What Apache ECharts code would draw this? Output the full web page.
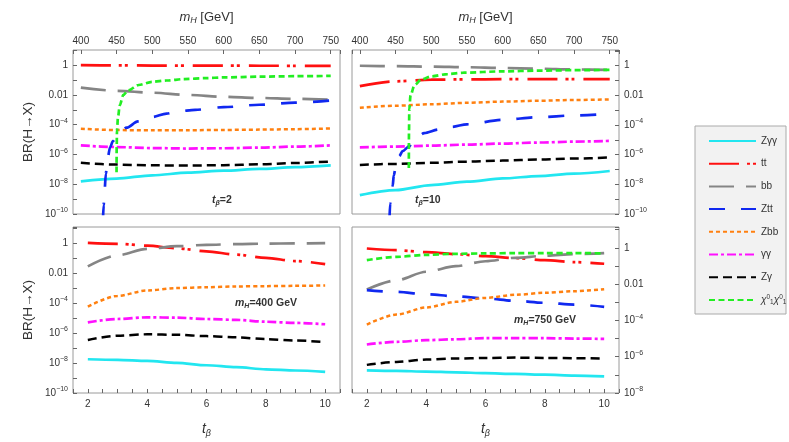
<!DOCTYPE html>
<html>
<head>
<meta charset="utf-8">
<script src="https://cdn.jsdelivr.net/npm/echarts@6/dist/echarts.min.js"></script>
<style>
html, body { margin: 0; padding: 0; background: #fff; }
#main { width: 789px; height: 442px; }
</style>
</head>
<body>
<div id="main"></div>
<script>
// x values
var mH = [400, 450, 500, 550, 600, 650, 700, 750];
var tb = [2, 3, 4, 5, 6, 7, 8, 9, 10];

// top left: t_beta = 2, BR vs mH
var tl_Zaa = [1.58e-8, 2.40e-8, 3.98e-8, 6.03e-8, 8.13e-8, 1.07e-7, 1.41e-7, 1.86e-7];
var tl_tt = [1.0, 0.98, 0.95, 0.94, 0.93, 0.92, 0.91, 0.90];
var tl_bb = [0.0309, 0.0191, 0.0141, 0.0100, 0.00759, 0.00631, 0.0055, 0.0049];
var tl_Zbb = [5.37e-5, 4.37e-5, 4.17e-5, 4.27e-5, 4.47e-5, 4.68e-5, 5.01e-5, 5.62e-5];
var tl_aa = [4.07e-6, 3.16e-6, 2.69e-6, 2.51e-6, 2.63e-6, 2.88e-6, 3.39e-6, 4.07e-6];
var tl_Za = [2.75e-7, 2.09e-7, 1.86e-7, 1.82e-7, 1.91e-7, 2.19e-7, 2.69e-7, 3.39e-7];
var tl_Ztt_m = [431, 432, 433, 435, 437, 441, 445, 450, 464, 480, 500, 520, 536, 560, 600, 650, 700, 750];
var tl_Ztt = [5.0e-11, 3.98e-10, 2.51e-9, 5.01e-8, 3.98e-7, 3.16e-6, 7.94e-6, 1.48e-5, 6.31e-5, 1.66e-4, 3.31e-4, 5.50e-4, 7.94e-4, 1.0e-3, 1.51e-3, 2.19e-3, 3.02e-3, 4.27e-3];
var tl_chi_m = [450.0, 450.2, 450.6, 452, 454.5, 459.5, 466, 481, 500, 520, 545, 575, 600, 650, 700, 750];
var tl_chi = [6.31e-8, 3.16e-6, 3.98e-5, 3.16e-4, 2.0e-3, 1.0e-2, 2.0e-2, 4.68e-2, 7.59e-2, 9.33e-2, 0.117, 0.135, 0.151, 0.170, 0.182, 0.191];

// top right: t_beta = 10, BR vs mH
var tr_Zaa = [1.86e-9, 4.07e-9, 8.91e-9, 1.51e-8, 2.51e-8, 3.63e-8, 5.25e-8, 7.94e-8];
var tr_tt = [0.0417, 0.0891, 0.115, 0.120, 0.123, 0.126, 0.126, 0.126];
var tr_bb = [1.0, 0.933, 0.871, 0.794, 0.708, 0.631, 0.562, 0.513];
var tr_Zbb = [1.48e-3, 2.0e-3, 2.51e-3, 3.16e-3, 3.80e-3, 4.37e-3, 4.90e-3, 5.37e-3];
var tr_aa = [3.09e-6, 3.55e-6, 4.07e-6, 4.79e-6, 5.62e-6, 6.61e-6, 7.59e-6, 8.51e-6];
var tr_Za = [2.04e-7, 2.40e-7, 2.82e-7, 3.39e-7, 3.98e-7, 4.68e-7, 5.50e-7, 6.46e-7];
var tr_Ztt_m = [441.5, 442.5, 446, 447.5, 451, 455, 460, 470, 474, 490, 511, 529, 550, 600, 650, 700, 750];
var tr_Ztt = [5.0e-11, 5.01e-10, 7.94e-9, 3.98e-8, 2.51e-7, 7.94e-7, 1.78e-6, 3.98e-6, 7.94e-6, 2.82e-5, 5.01e-5, 7.59e-5, 1.12e-4, 2.24e-4, 3.39e-4, 4.47e-4, 5.75e-4];
var tr_chi_m = [468.6, 468.8, 469.3, 471, 476.5, 486, 500, 523, 545, 600, 650, 700, 750];
var tr_chi = [1.26e-7, 3.16e-5, 1.26e-3, 1.0e-2, 4.90e-2, 0.117, 0.191, 0.275, 0.339, 0.417, 0.468, 0.501, 0.525];

// bottom left: mH = 400 GeV, BR vs t_beta
var bl_Zaa = [1.78e-8, 1.62e-8, 1.38e-8, 1.02e-8, 7.08e-9, 5.25e-9, 3.80e-9, 3.16e-9, 2.57e-9];
var bl_tt = [1.0, 0.871, 0.661, 0.437, 0.275, 0.166, 0.100, 0.0617, 0.0389];
var bl_bb = [0.0275, 0.151, 0.398, 0.603, 0.741, 0.832, 0.891, 0.933, 0.955];
var bl_Zbb = [5.75e-5, 2.95e-4, 6.76e-4, 9.77e-4, 1.12e-3, 1.26e-3, 1.32e-3, 1.38e-3, 1.48e-3];
var bl_aa = [5.13e-6, 8.51e-6, 1.10e-5, 1.05e-5, 8.51e-6, 7.41e-6, 5.62e-6, 4.68e-6, 3.80e-6];
var bl_Za = [3.39e-7, 6.61e-7, 8.13e-7, 7.59e-7, 6.17e-7, 5.13e-7, 3.89e-7, 3.16e-7, 2.45e-7];

// bottom right: mH = 750 GeV, BR vs t_beta
var br_Zaa = [1.78e-7, 1.66e-7, 1.51e-7, 1.38e-7, 1.23e-7, 1.12e-7, 1.02e-7, 9.12e-8, 8.32e-8];
var br_tt = [0.912, 0.741, 0.575, 0.447, 0.347, 0.269, 0.209, 0.162, 0.132];
var br_bb = [5.01e-3, 0.0162, 0.0479, 0.0977, 0.182, 0.282, 0.363, 0.447, 0.513];
var br_Ztt = [4.68e-3, 3.72e-3, 2.75e-3, 2.14e-3, 1.62e-3, 1.20e-3, 9.33e-4, 7.41e-4, 5.62e-4];
var br_Zbb = [5.89e-5, 2.09e-4, 5.13e-4, 1.05e-3, 1.74e-3, 2.57e-3, 3.31e-3, 4.07e-3, 5.25e-3];
var br_aa = [4.68e-6, 6.61e-6, 8.13e-6, 9.12e-6, 1.05e-5, 1.05e-5, 1.05e-5, 1.0e-5, 9.55e-6];
var br_Za = [3.55e-7, 5.13e-7, 6.92e-7, 7.94e-7, 8.51e-7, 8.91e-7, 8.51e-7, 8.32e-7, 7.94e-7];
var br_chi = [0.209, 0.316, 0.407, 0.468, 0.490, 0.513, 0.513, 0.513, 0.490];

var names = ['Zγγ', 'tt', 'bb', 'Ztt', 'Zbb', 'γγ', 'Zγ', 'χχ'];

var styles = {
    'Zγγ': { color: '#22e6f0', width: 2.7, type: 'solid' },
    'tt': { color: '#ff1010', width: 2.7, type: [30, 8, 3, 3, 3, 9] },
    'bb': { color: '#858585', width: 2.7, type: [25, 12] },
    'Ztt': { color: '#1028f0', width: 2.7, type: [16, 16] },
    'Zbb': { color: '#ff8010', width: 2.5, type: [4, 3] },
    'γγ': { color: '#ff10ff', width: 2.7, type: [9, 3, 3, 3] },
    'Zγ': { color: '#000000', width: 2.5, type: [9, 5] },
    'χχ': { color: '#22ee22', width: 2.7, type: [6, 3.5] }
};

function line(name, xs, ys, idx) {
    var st = styles[name];
    return {
        name: name,
        type: 'line',
        xAxisIndex: idx,
        yAxisIndex: idx,
        symbol: 'none',
        smooth: 0.3,
        smoothMonotone: 'x',
        clip: true,
        silent: true,
        lineStyle: { color: st.color, width: st.width, type: st.type },
        itemStyle: { color: st.color },
        data: xs.map(function (x, i) { return [x, ys[i]]; })
    };
}

var textColor = '#333';
var frameColor = '#9a9a9a';

function powLabel(v) {
    var l = Math.log10(v);
    var e = Math.round(l);
    if (Math.abs(l - e) > 0.01 || e % 2 !== 0) return '';
    if (e === 0) return '1';
    if (e === -2) return '0.01';
    return '10{s|−' + (-e) + '}';
}

function yAxis(idx, pos, min, max, withName) {
    return {
        type: 'log',
        logBase: 10,
        gridIndex: idx,
        position: pos,
        min: min,
        max: max,
        interval: 1,
        axisLine: { show: false },
        axisTick: { show: true, inside: true, length: 4, lineStyle: { color: '#666' } },
        splitLine: { show: false },
        axisLabel: {
            interval: 0,
            margin: 5,
            color: textColor,
            fontSize: 10,
            lineHeight: 14,
            fontFamily: 'Liberation Sans',
            formatter: powLabel,
            rich: { s: { fontSize: 7, lineHeight: 8, verticalAlign: 'top', color: textColor, fontFamily: 'Liberation Sans' } }
        },
        name: withName ? 'BR(H→X)' : '',
        nameLocation: 'middle',
        nameGap: 38,
        nameRotate: 90,
        nameTextStyle: { color: textColor, fontSize: 13.5, fontFamily: 'Liberation Sans' }
    };
}

function mAxis(idx) {
    return {
        type: 'value',
        gridIndex: idx,
        position: 'top',
        min: 389,
        max: 763,
        splitNumber: 7,
        axisLine: { show: false },
        axisTick: { show: true, inside: true, length: 4, lineStyle: { color: '#666' } },
        splitLine: { show: false },
        axisLabel: {
            interval: 0,
            margin: 4,
            color: textColor,
            fontSize: 10,
            fontFamily: 'Liberation Sans',
            formatter: function (v) { return v % 50 === 0 ? String(v) : ''; }
        },
        name: '{i|m}{sub|H} [GeV]',
        nameLocation: 'middle',
        nameGap: 25,
        nameTextStyle: {
            color: textColor, fontSize: 13, fontFamily: 'Liberation Sans',
            rich: {
                i: { fontStyle: 'italic', fontSize: 13, color: textColor, lineHeight: 16, fontFamily: 'Liberation Sans' },
                sub: { fontStyle: 'italic', fontSize: 9, color: textColor, lineHeight: 10, verticalAlign: 'bottom', fontFamily: 'Liberation Sans' }
            }
        }
    };
}

function tAxis(idx) {
    return {
        type: 'value',
        gridIndex: idx,
        position: 'bottom',
        min: 1.5,
        max: 10.5,
        interval: 0.5,
        axisLine: { show: false },
        axisTick: { show: true, inside: true, length: 4, lineStyle: { color: '#666' } },
        splitLine: { show: false },
        axisLabel: {
            interval: 0,
            margin: 6,
            color: textColor,
            fontSize: 10,
            fontFamily: 'Liberation Sans',
            formatter: function (v) { return v % 2 === 0 ? String(v) : ''; }
        },
        name: '{i|t}{sub|β}',
        nameLocation: 'middle',
        nameGap: 28,
        nameTextStyle: {
            color: textColor, fontSize: 14, fontFamily: 'Liberation Sans',
            rich: {
                i: { fontStyle: 'italic', fontSize: 14, color: textColor, lineHeight: 17, fontFamily: 'Liberation Sans' },
                sub: { fontStyle: 'italic', fontSize: 9, color: textColor, lineHeight: 10, verticalAlign: 'bottom', fontFamily: 'Liberation Sans' }
            }
        }
    };
}

var noteRich = {
    i: { fontStyle: 'italic', fontSize: 10.5, color: textColor, lineHeight: 14, fontFamily: 'Liberation Sans' },
    sub: { fontStyle: 'italic', fontSize: 7, color: textColor, lineHeight: 8, verticalAlign: 'bottom', fontFamily: 'Liberation Sans' },
    n: { fontSize: 10.5, color: textColor, lineHeight: 14, fontFamily: 'Liberation Sans' }
};

function note(text, left, top) {
    return { text: text, left: left, top: top, padding: 0, textStyle: { rich: noteRich, fontSize: 10.5 } };
}

var series = [];
var tlY = [tl_Zaa, tl_tt, tl_bb, null, tl_Zbb, tl_aa, tl_Za, null];
var trY = [tr_Zaa, tr_tt, tr_bb, null, tr_Zbb, tr_aa, tr_Za, null];
var blY = [bl_Zaa, bl_tt, bl_bb, null, bl_Zbb, bl_aa, bl_Za, null];
var brY = [br_Zaa, br_tt, br_bb, br_Ztt, br_Zbb, br_aa, br_Za, br_chi];
names.forEach(function (n, k) {
    if (tlY[k]) series.push(line(n, mH, tlY[k], 0));
    if (trY[k]) series.push(line(n, mH, trY[k], 1));
    if (blY[k]) series.push(line(n, tb, blY[k], 2));
    if (brY[k]) series.push(line(n, tb, brY[k], 3));
});
series.push(line('Ztt', tl_Ztt_m, tl_Ztt, 0));
series.push(line('χχ', tl_chi_m, tl_chi, 0));
series.push(line('Ztt', tr_Ztt_m, tr_Ztt, 1));
series.push(line('χχ', tr_chi_m, tr_chi, 1));

var myChart = echarts.init(document.getElementById('main'));
var option = {
    backgroundColor: '#fff',
    animation: false,
    title: [
        note('{i|t}{sub|β}{n|=2}', 212, 193),
        note('{i|t}{sub|β}{n|=10}', 415, 193),
        note('{i|m}{sub|H}{n|=400 GeV}', 235, 296),
        note('{i|m}{sub|H}{n|=750 GeV}', 514, 313)
    ],
    grid: [
        { left: 73, top: 50, width: 267, height: 164, show: true, borderColor: frameColor, borderWidth: 1 },
        { left: 352, top: 50, width: 267, height: 164, show: true, borderColor: frameColor, borderWidth: 1 },
        { left: 73, top: 227, width: 267, height: 166, show: true, borderColor: frameColor, borderWidth: 1 },
        { left: 352, top: 227, width: 267, height: 166, show: true, borderColor: frameColor, borderWidth: 1 }
    ],
    xAxis: [mAxis(0), mAxis(1), tAxis(2), tAxis(3)],
    yAxis: [
        yAxis(0, 'left', 1e-10, 10.5, true),
        yAxis(1, 'right', 1e-10, 11.5, false),
        yAxis(2, 'left', 1e-10, 11.5, true),
        yAxis(3, 'right', 1e-8, 14, false)
    ],
    legend: {
        orient: 'vertical',
        left: 703,
        top: 130,
        itemWidth: 47,
        itemHeight: 12,
        itemGap: 10.7,
        selectedMode: false,
        data: names,
        itemStyle: { opacity: 0 },
        textStyle: {
            color: textColor, fontSize: 10, lineHeight: 12, fontFamily: 'Liberation Sans',
            rich: {
                c: { fontStyle: 'italic', fontSize: 10, lineHeight: 12, color: textColor, fontFamily: 'Liberation Sans' },
                p: { fontSize: 6.5, lineHeight: 7, verticalAlign: 'top', color: textColor, fontFamily: 'Liberation Sans' },
                b: { fontSize: 6.5, lineHeight: 7, verticalAlign: 'bottom', color: textColor, fontFamily: 'Liberation Sans' }
            }
        },
        formatter: function (n) {
            if (n === 'χχ') return '{c|χ}{p|0}{b|1}{c|χ}{p|0}{b|1}';
            return n;
        }
    },
    graphic: [
        {
            type: 'rect',
            shape: { x: 695, y: 126, width: 91, height: 188 },
            style: { fill: '#f2f2f2', stroke: '#aaaaaa', lineWidth: 1 },
            z: -1
        }
    ],
    series: series
};
myChart.setOption(option);
</script>
</body>
</html>
